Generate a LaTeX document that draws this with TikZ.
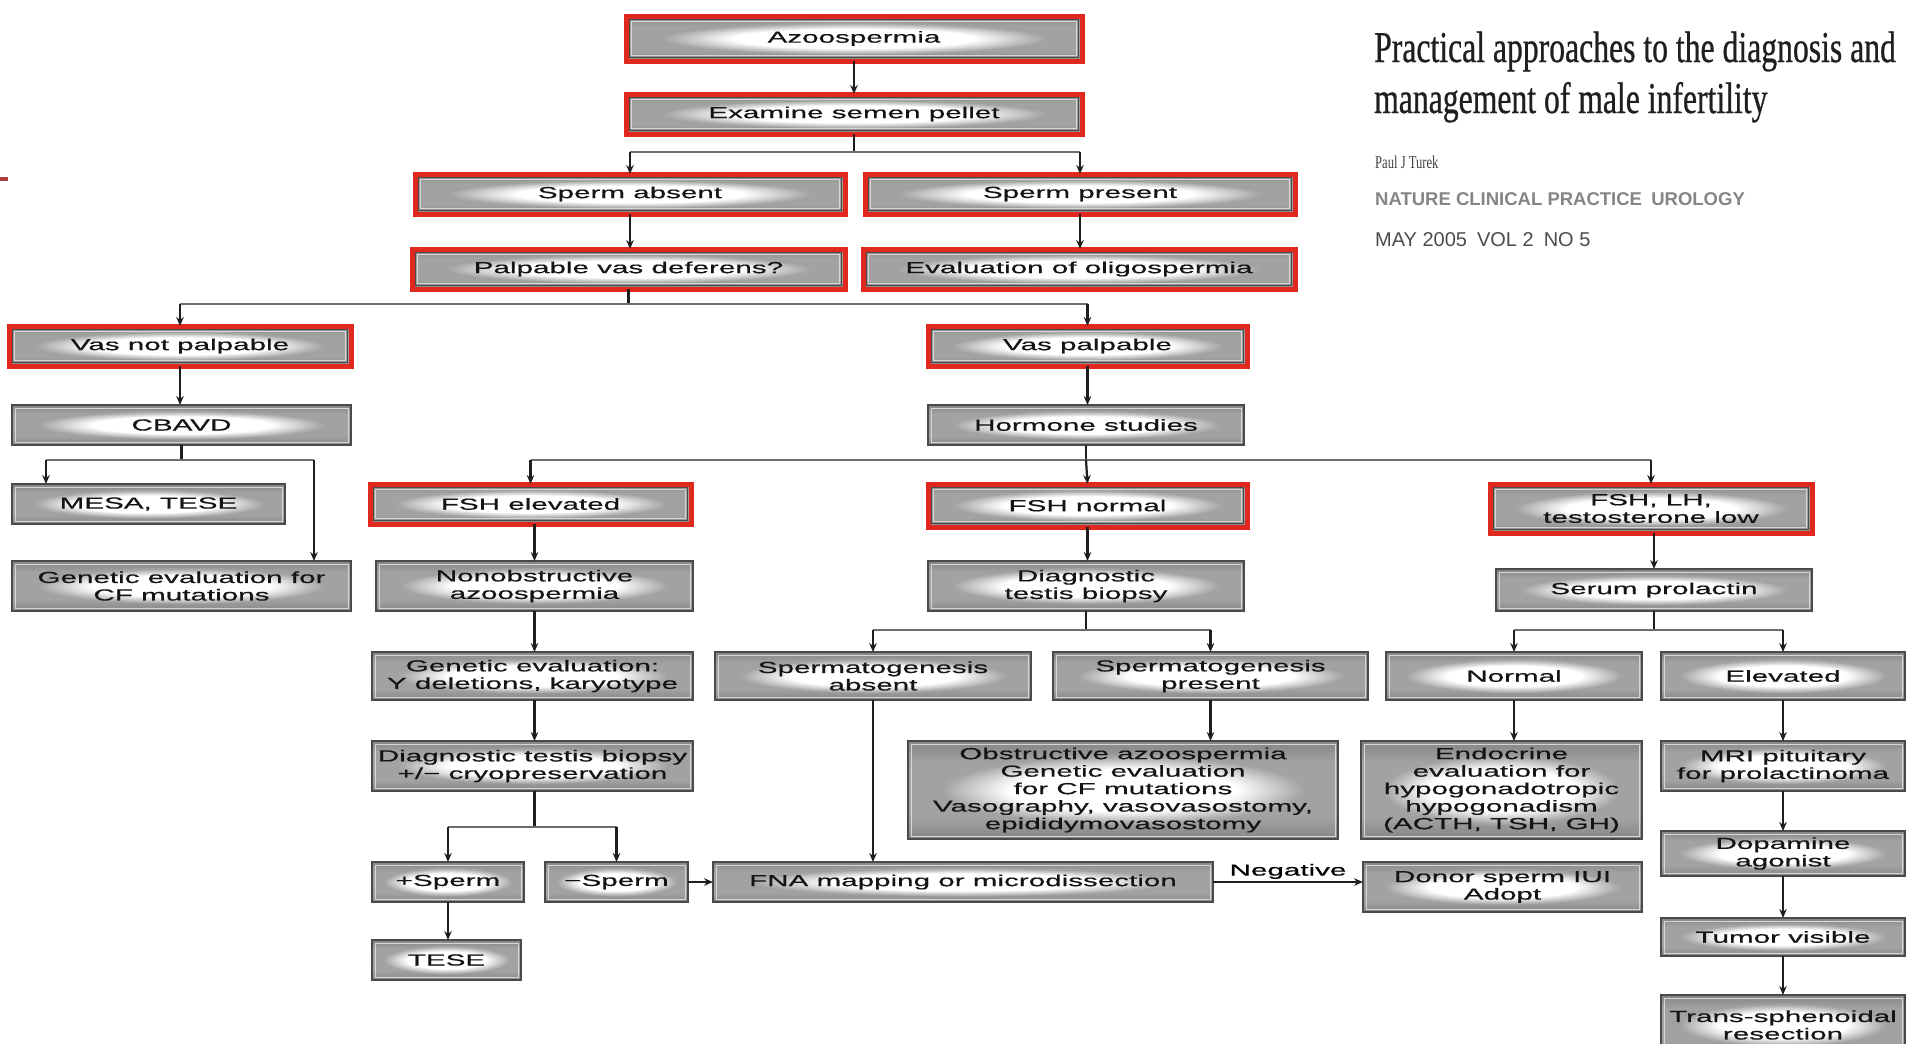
\documentclass[tikz,border=0pt]{standalone}
\usepackage{fontspec}
\setmainfont{Liberation Sans}
\newfontfamily\boxfont{Liberation Sans}[FakeStretch=1.85,FakeBold=0.5]
\newfontfamily\titlefont{Liberation Serif}[FakeStretch=0.72,FakeBold=0.6]
\newfontfamily\authfont{Liberation Serif}[FakeStretch=0.7]
\usetikzlibrary{arrows.meta,calc}
\definecolor{boxgray}{HTML}{A2A2A2}
\definecolor{boxdark}{HTML}{858585}
\definecolor{boxline}{HTML}{D6D6D6}
\definecolor{boxedge}{HTML}{4A4A4A}
\definecolor{boxred}{HTML}{E0281E}
\definecolor{linkc}{HTML}{1E1E1E}
\definecolor{hlinkc}{HTML}{6E6E6E}
\pgfdeclareradialshading{glow}{\pgfpoint{0bp}{0bp}}{color(0bp)=(white);color(15bp)=(white);color(24bp)=(boxgray);color(50bp)=(boxgray)}
\pgfdeclareverticalshading{boxv}{100bp}{color(0bp)=(boxdark);color(25bp)=(boxdark);color(36bp)=(boxgray);color(64bp)=(boxgray);color(75bp)=(boxdark);color(100bp)=(boxdark)}
\newcommand\bx[7]{\node[#1, minimum width={#5-#3}, minimum height={#6-#4}] (#2) at ({(#3+#5)/2},{(#4+#6)/2}) {#7};}
\tikzset{
  glowpic/.style={path picture={
    \shade[shading=boxv] (path picture bounding box.south west) rectangle (path picture bounding box.north east);
    \shade[shading=glow] let \p1=(path picture bounding box.south west), \p2=(path picture bounding box.north east)
      in ($(\p1)!0.5!(\p2)$) ellipse ({0.44*(\x2-\x1)} and {0.36*abs(\y2-\y1)});
    #1
  }},
  gbox/.style={draw=boxedge, line width=1.6pt, inner sep=0pt, outer sep=0pt, align=center, text=black!92,
    font=\boxfont\fontsize{16}{17.5}\selectfont,
    glowpic={\draw[boxline, line width=1pt] ([shift={(3pt,3pt)}]path picture bounding box.south west) rectangle ([shift={(-3pt,-3pt)}]path picture bounding box.north east);}},
  rbox/.style={gbox, draw=boxred, line width=5pt,
    glowpic={\draw[boxedge, line width=1.4pt] ([shift={(3.6pt,3.6pt)}]path picture bounding box.south west) rectangle ([shift={(-3.6pt,-3.6pt)}]path picture bounding box.north east);
             \draw[boxline, line width=1pt] ([shift={(5.7pt,5.7pt)}]path picture bounding box.south west) rectangle ([shift={(-5.7pt,-5.7pt)}]path picture bounding box.north east);}},
  ln/.style={draw=linkc, line width=2.2pt},
  hln/.style={draw=hlinkc, line width=2.8pt},
  arr/.style={ln, -{Stealth[length=9pt,width=7.5pt]}},
}
\begin{document}
\begin{tikzpicture}[x=1pt,y=-1pt]
\useasboundingbox (0,0) rectangle (1907,1044);
\clip (0,0) rectangle (1907,1044);
\fill[white] (0,0) rectangle (1907,1044);
% small mark at left edge
\draw[draw=red!55!black!75, line width=4pt] (0,179) -- (8,179);
% boxes
\bx{rbox}{azo}{626}{16}{1082}{61}{Azoospermia}
\bx{rbox}{exam}{626}{94}{1082}{134}{Examine semen pellet}
\bx{rbox}{sabs}{415}{174}{845}{214}{Sperm absent}
\bx{rbox}{spres}{865}{174}{1295}{214}{Sperm present}
\bx{rbox}{palp}{412}{249}{845}{289}{Palpable vas deferens?}
\bx{rbox}{oligo}{863}{249}{1295}{289}{Evaluation of oligospermia}
\bx{rbox}{vnp}{9}{326}{351}{366}{Vas not palpable}
\bx{rbox}{vp}{928}{326}{1247}{366}{Vas palpable}
\bx{gbox}{cbavd}{12}{405}{351}{445}{CBAVD}
\bx{gbox}{horm}{928}{405}{1244}{445}{Hormone studies}
\bx{gbox}{mesa}{12}{484}{285}{524}{MESA, TESE}
\bx{rbox}{fshe}{370}{484}{691}{524}{FSH elevated}
\bx{rbox}{fshn}{928}{484}{1247}{527}{FSH normal}
\bx{rbox}{fshl}{1490}{484}{1812}{533}{FSH, LH,\\testosterone low}
\bx{gbox}{gcf}{12}{561}{351}{611}{Genetic evaluation for\\CF mutations}
\bx{gbox}{nonob}{376}{561}{693}{611}{Nonobstructive\\azoospermia}
\bx{gbox}{dtb}{928}{561}{1244}{611}{Diagnostic\\testis biopsy}
\bx{gbox}{prl}{1496}{569}{1812}{611}{Serum prolactin}
\bx{gbox}{gy}{372}{652}{693}{700}{Genetic evaluation:\\Y deletions, karyotype}
\bx{gbox}{sga}{715}{652}{1031}{700}{Spermatogenesis\\absent}
\bx{gbox}{sgp}{1053}{652}{1368}{700}{Spermatogenesis\\present}
\bx{gbox}{norm}{1386}{652}{1642}{700}{Normal}
\bx{gbox}{elev}{1661}{652}{1905}{700}{Elevated}
\bx{gbox}{cryo}{372}{741}{693}{791}{Diagnostic testis biopsy\\+/{\textminus} cryopreservation}
\bx{gbox}{obst}{908}{741}{1338}{839}{Obstructive azoospermia\\Genetic evaluation\\for CF mutations\\Vasography, vasovasostomy,\\epididymovasostomy}
\bx{gbox}{endo}{1361}{741}{1642}{839}{Endocrine\\evaluation for\\hypogonadotropic\\hypogonadism\\(ACTH, TSH, GH)}
\bx{gbox}{mri}{1661}{741}{1905}{791}{MRI pituitary\\for prolactinoma}
\bx{gbox}{psp}{372}{862}{524}{902}{+Sperm}
\bx{gbox}{msp}{545}{862}{688}{902}{{\textminus}Sperm}
\bx{gbox}{fna}{713}{862}{1213}{902}{FNA mapping or microdissection}
\bx{gbox}{donor}{1363}{862}{1642}{912}{Donor sperm IUI\\Adopt}
\bx{gbox}{dopa}{1661}{831}{1905}{876}{Dopamine\\agonist}
\bx{gbox}{tese}{372}{940}{521}{980}{TESE}
\bx{gbox}{tumor}{1661}{918}{1905}{956}{Tumor visible}
\bx{gbox}{trans}{1661}{995}{1905}{1055}{Trans-sphenoidal\\resection}
% connectors
\draw[arr] (azo.south) -- (exam.north);
% exam branch
\draw[ln] (exam.south) -- ++(0,18) coordinate (b1);
\draw[hln] (b1 -| sabs.north) -- (b1 -| spres.north);
\draw[arr] (b1 -| sabs.north) -- (sabs.north);
\draw[arr] (b1 -| spres.north) -- (spres.north);
\draw[arr] (sabs.south) -- (sabs.south |- palp.north);
\draw[arr] (spres.south) -- (spres.south |- oligo.north);
% palpable branch
\draw[ln] (palp.south) -- ++(0,15) coordinate (b2);
\draw[hln] (b2 -| vnp.north) -- (b2 -| vp.north);
\draw[arr] (b2 -| vnp.north) -- (vnp.north);
\draw[arr] (b2 -| vp.north) -- (vp.north);
\draw[arr] (vnp.south) -- (vnp.south |- cbavd.north);
\draw[arr] (vp.south) -- (vp.south |- horm.north);
% CBAVD branch
\draw[ln] (cbavd.south) -- ++(0,15) coordinate (b3);
\coordinate (m1) at ([xshift=34pt]mesa.north west);
\coordinate (g1) at ([xshift=-37pt]gcf.north east);
\draw[hln] (b3 -| m1) -- (b3 -| g1);
\draw[arr] (b3 -| m1) -- (m1);
\draw[arr] (b3 -| g1) -- (g1);
% hormone branch
\draw[ln] (horm.south) -- ++(0,15) coordinate (b4);
\draw[hln] (b4 -| fshe.north) -- (b4 -| fshl.north);
\draw[arr] (b4 -| fshe.north) -- (fshe.north);
\draw[arr] (b4) -- (fshn.north);
\draw[arr] (b4 -| fshl.north) -- (fshl.north);
% FSH elevated column
\draw[arr] (nonob.north |- fshe.south) -- (nonob.north);
\draw[arr] (nonob.south) -- (nonob.south |- gy.north);
\draw[arr] (nonob.south |- gy.south) -- (nonob.south |- cryo.north);
\draw[ln] (nonob.south |- cryo.south) -- ++(0,36) coordinate (b5);
\draw[hln] (b5 -| psp.north) -- (b5 -| msp.north);
\draw[arr] (b5 -| psp.north) -- (psp.north);
\draw[arr] (b5 -| msp.north) -- (msp.north);
\draw[arr] (psp.south) -- (psp.south |- tese.north);
\draw[arr] (msp.east) -- (fna.west);
% FSH normal column
\draw[arr] (fshn.south) -- (fshn.south |- dtb.north);
\draw[ln] (dtb.south) -- ++(0,19) coordinate (b6);
\draw[hln] (b6 -| sga.north) -- (b6 -| sgp.north);
\draw[arr] (b6 -| sga.north) -- (sga.north);
\draw[arr] (b6 -| sgp.north) -- (sgp.north);
\draw[arr] (sga.south) -- (sga.south |- fna.north);
\draw[arr] (sgp.south) -- (sgp.south |- obst.north);
\draw[arr] (fna.east) -- (fna.east -| donor.west) node[midway, above=1pt, font=\boxfont\fontsize{16}{17.5}\selectfont, inner sep=1pt] (neg) {Negative};
% low hormone column
\draw[arr] (prl.north |- fshl.south) -- (prl.north);
\draw[ln] (prl.south) -- ++(0,19) coordinate (b7);
\draw[hln] (b7 -| norm.north) -- (b7 -| elev.north);
\draw[arr] (b7 -| norm.north) -- (norm.north);
\draw[arr] (b7 -| elev.north) -- (elev.north);
\draw[arr] (norm.south) -- (norm.south |- endo.north);
\draw[arr] (elev.south) -- (mri.north);
\draw[arr] (mri.south) -- (dopa.north);
\draw[arr] (dopa.south) -- (tumor.north);
\draw[arr] (tumor.south) -- (trans.north);
% title block
\node[anchor=base west, inner sep=0pt, text=black!88, font=\titlefont\fontsize{44}{46}\selectfont] (t1) at (1374,62) {Practical approaches to the diagnosis and};
\node[anchor=base west, inner sep=0pt, text=black!88, font=\titlefont\fontsize{44}{46}\selectfont] (t2) at (1374,113) {management of male infertility};
\node[anchor=base west, inner sep=0pt, text=black!75, font=\authfont\fontsize{18}{19}\selectfont] (au) at (1375,168) {Paul J Turek};
\node[anchor=base west, inner sep=0pt, text=black!48, font=\bfseries\fontsize{18.5}{20}\selectfont] (jr) at (1375,205) {NATURE CLINICAL PRACTICE\enspace UROLOGY};
\node[anchor=base west, inner sep=0pt, text=black!70, font=\fontsize{20}{22}\selectfont] (dt) at (1375,246) {MAY 2005\enspace VOL 2\enspace NO 5};
\end{tikzpicture}
\end{document}
